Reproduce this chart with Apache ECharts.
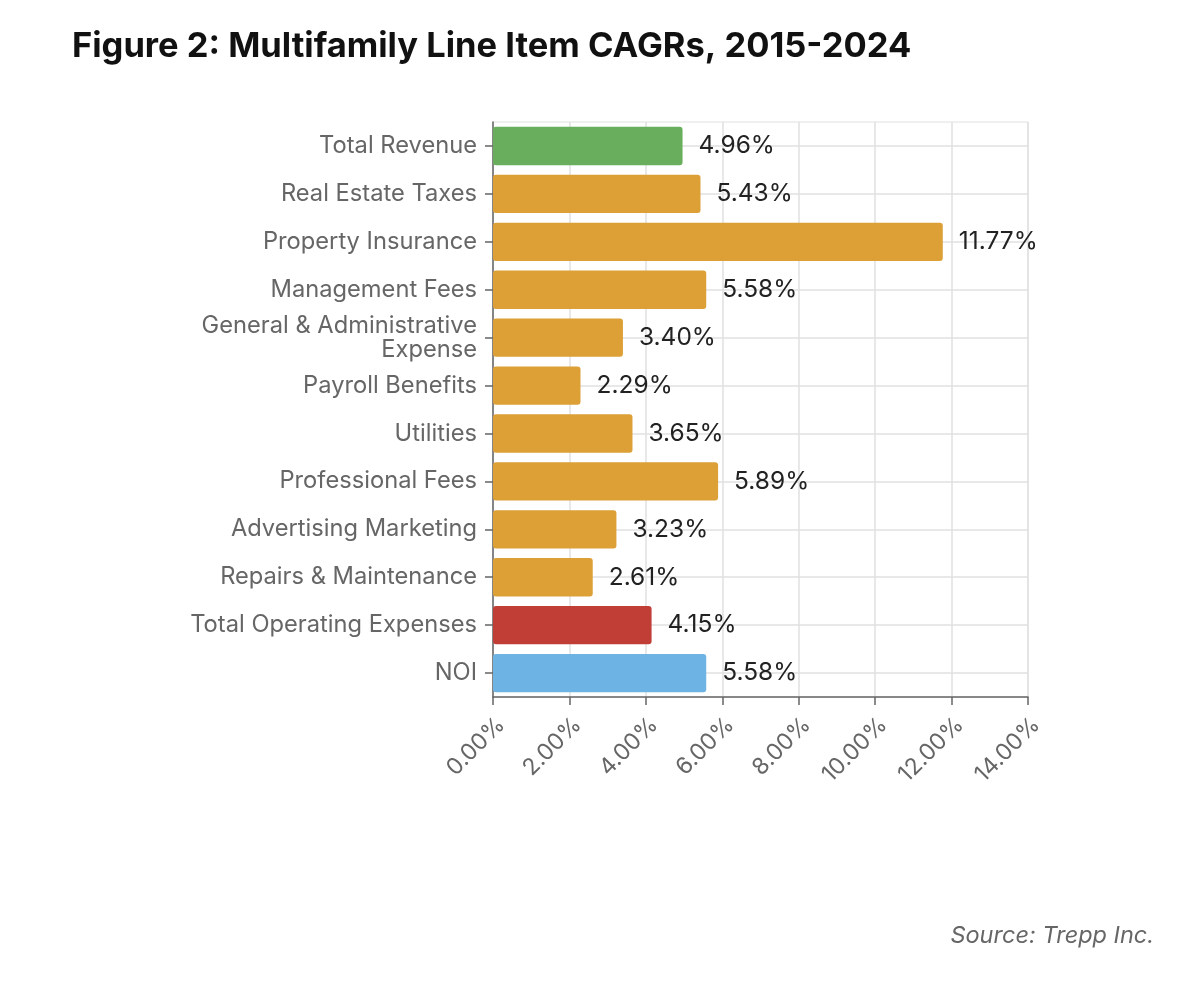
<!DOCTYPE html>
<html>
<head>
<meta charset="utf-8">
<style>
html,body{margin:0;padding:0;background:#fff;}
#chart{width:1180px;height:982px;}
</style>
<script src="https://cdn.jsdelivr.net/npm/echarts@6/dist/echarts.min.js"></script>
</head>
<body>
<div id="chart"></div>
<script>
const categories = ["Total Revenue","Real Estate Taxes","Property Insurance","Management Fees","General & Administrative\nExpense","Payroll Benefits","Utilities","Professional Fees","Advertising Marketing","Repairs & Maintenance","Total Operating Expenses","NOI"];
const values = [4.96,5.43,11.77,5.58,3.40,2.29,3.65,5.89,3.23,2.61,4.15,5.58];
const colors = ["#69AE5C","#DCA036","#DCA036","#DCA036","#DCA036","#DCA036","#DCA036","#DCA036","#DCA036","#DCA036","#C13E37","#6DB3E4"];
const titleText = "Figure 2: Multifamily Line Item CAGRs, 2015-2024";
const sourceText = "Source: Trepp Inc.";

const chart = echarts.init(document.getElementById('chart'));
const font = 'Inter, "Noto Sans", sans-serif';
chart.setOption({
  backgroundColor:'#fff',
  animation:false,
  textStyle:{fontFamily:font},
  title:[
    {text:titleText,left:67,top:24,textStyle:{fontFamily:font,fontSize:34.5,fontWeight:'bold',color:'#111'}},
    {text:sourceText,right:21,top:919,textStyle:{fontFamily:font,fontSize:23.5,fontStyle:'italic',fontWeight:'normal',color:'#666'}}
  ],
  grid:{left:493,right:152,top:122,bottom:285,show:true,borderColor:'#e0e0e0',borderWidth:1},
  xAxis:{
    type:'value',min:0,max:14,interval:2,
    axisLine:{show:true,lineStyle:{color:'#666',width:1.5}},
    axisTick:{show:true,length:8,lineStyle:{color:'#666',width:1.5}},
    axisLabel:{rotate:45,color:'#666',fontSize:23,margin:16,verticalAlign:'top',formatter:v=>v.toFixed(2)+'%'},
    splitLine:{show:true,lineStyle:{color:'#e0e0e0',width:1.5}}
  },
  yAxis:{
    type:'category',data:categories,inverse:true,
    axisLine:{show:true,lineStyle:{color:'#666',width:1.5}},
    axisTick:{show:true,alignWithLabel:true,length:8,lineStyle:{color:'#666',width:1.5}},
    axisLabel:{color:'#666',fontSize:23.7,margin:16,lineHeight:24},
    splitLine:{show:true,alignWithLabel:true,lineStyle:{color:'#e0e0e0',width:1.5}}
  },
  series:[{
    type:'bar',
    data:values.map((v,i)=>({value:v,itemStyle:{color:colors[i]}})),
    barCategoryGap:'20%',
    itemStyle:{borderRadius:3},
    label:{show:true,position:'right',distance:16,color:'#222',fontSize:24.5,formatter:p=>p.value.toFixed(2)+'%'}
  }]
});
</script>
</body>
</html>
